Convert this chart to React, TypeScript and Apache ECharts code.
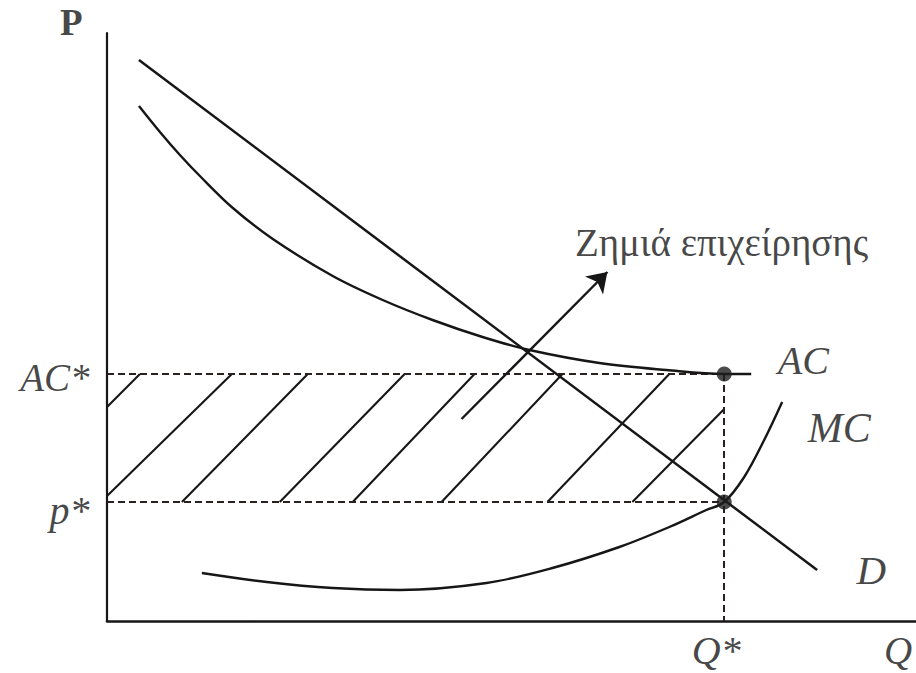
import React, { useEffect, useRef } from "react";
import * as echarts from "echarts";

// Axis extent (data units)
const X_MAX = 810;
const Y_MAX = 588;

// Equilibrium / reference levels
const Q_STAR = 618;
const AC_STAR = 247;
const P_STAR = 119;

// Curves
const demandCurve: number[][] = [
  [32, 561],
  [711, 51],
];
const acCurve: number[][] = [
  [32, 515], [53, 489], [73, 466], [93, 445], [126, 413], [166, 382],
  [226, 345], [276, 321], [326, 301], [376, 284], [423, 271], [493, 258],
  [560, 251], [618, 247], [645, 247],
];
const mcCurve: number[][] = [
  [95, 48], [160, 39], [226, 33], [293, 31], [380, 38], [446, 53],
  [513, 74], [563, 94], [600, 111], [618, 119], [638, 144], [658, 181], [676, 219],
];

// Hatched loss rectangle lines
const hatchLines: number[][][] = [
  [[0, 214], [33, 247]],
  [[0, 125], [125, 247]],
  [[75, 119], [201, 247]],
  [[173, 119], [298, 247]],
  [[246, 119], [368, 247]],
  [[335, 119], [456, 247]],
  [[441, 119], [563, 247]],
  [[526, 119], [618, 212]],
];

const lossArrow: number[][] = [
  [355, 202],
  [501, 349],
];

const dashedLines: number[][][] = [
  [[0, AC_STAR], [Q_STAR, AC_STAR]],
  [[0, P_STAR], [Q_STAR, P_STAR]],
  [[Q_STAR, AC_STAR], [Q_STAR, 0]],
];

const points: number[][] = [
  [Q_STAR, AC_STAR],
  [Q_STAR, P_STAR],
];

const TXT_LOSS = "Ζημιά επιχείρησης";

const SERIF = "'Liberation Serif', 'Times New Roman', serif";
const INK = "#161616";

export default function App() {
  const ref = useRef<HTMLDivElement>(null);

  useEffect(() => {
    if (!ref.current) return;
    const chart = echarts.init(ref.current, undefined, { renderer: "svg" });

    const italic = {
      fontFamily: SERIF,
      fontStyle: "italic",
      fontSize: 40,
      color: INK,
    };

    const labelItems = [
      {
        value: [0, Y_MAX],
        label: { ...italic, fontStyle: "normal", fontWeight: "bold", fontSize: 37, formatter: "P", position: "left", distance: 24, offset: [0, -11] },
      },
      {
        value: [0, AC_STAR],
        label: { ...italic, fontSize: 39, formatter: "AC*", position: "left", distance: 17, offset: [0, 3] },
      },
      {
        value: [0, P_STAR],
        label: { ...italic, fontSize: 40, formatter: "p*", position: "left", distance: 17, offset: [0, 8] },
      },
      {
        value: [Q_STAR, 0],
        label: { ...italic, fontSize: 40, formatter: "Q*", position: "inside", offset: [-8, 29] },
      },
      {
        value: [X_MAX - 18, 0],
        label: { ...italic, fontSize: 39, formatter: "Q", position: "inside", offset: [0, 29] },
      },
      {
        value: acCurve[acCurve.length - 1],
        label: { ...italic, fontSize: 40, formatter: "AC", position: "right", distance: 26, offset: [0, -14] },
      },
      {
        value: mcCurve[mcCurve.length - 1],
        label: { ...italic, fontSize: 42, formatter: "MC", position: "right", distance: 25, offset: [0, 26] },
      },
      {
        value: demandCurve[demandCurve.length - 1],
        label: { ...italic, fontSize: 41, formatter: "D", position: "right", distance: 39, offset: [0, 0] },
      },
      {
        value: lossArrow[1],
        label: { ...italic, fontStyle: "normal", fontSize: 39, formatter: TXT_LOSS, position: "right", distance: 0, offset: [-33, -30] },
      },
    ];

    const option: any = {
      animation: false,
      backgroundColor: "#ffffff",
      grid: { left: 107, top: 33, width: X_MAX, height: Y_MAX, containLabel: false },
      xAxis: {
        type: "value",
        min: 0,
        max: X_MAX,
        axisLine: { show: true, onZero: false, lineStyle: { color: INK, width: 2.6 } },
        axisTick: { show: false },
        axisLabel: { show: false },
        splitLine: { show: false },
      },
      yAxis: {
        type: "value",
        min: 0,
        max: Y_MAX,
        axisLine: { show: true, onZero: false, lineStyle: { color: INK, width: 2.2 } },
        axisTick: { show: false },
        axisLabel: { show: false },
        splitLine: { show: false },
      },
      series: [
        {
          name: "D",
          type: "line",
          data: demandCurve,
          showSymbol: false,
          silent: true,
          lineStyle: { color: INK, width: 2.5 },
        },
        {
          name: "AC",
          type: "line",
          data: acCurve,
          smooth: 0.35,
          showSymbol: false,
          silent: true,
          lineStyle: { color: INK, width: 2.4 },
        },
        {
          name: "MC",
          type: "line",
          data: mcCurve,
          smooth: 0.35,
          showSymbol: false,
          silent: true,
          lineStyle: { color: INK, width: 2.4 },
        },
        {
          name: "hatch",
          type: "lines",
          coordinateSystem: "cartesian2d",
          polyline: false,
          silent: true,
          data: hatchLines.map((c) => ({ coords: c })),
          lineStyle: { color: INK, width: 2.1, opacity: 1 },
        },
        {
          name: "dashed",
          type: "lines",
          coordinateSystem: "cartesian2d",
          polyline: false,
          silent: true,
          data: dashedLines.map((c) => ({ coords: c })),
          lineStyle: { color: "#2a2020", width: 2, type: [7, 4], opacity: 1 },
        },
        {
          name: "arrow",
          type: "lines",
          coordinateSystem: "cartesian2d",
          polyline: false,
          silent: true,
          symbol: ["none", "arrow"],
          symbolSize: 19,
          data: [{ coords: lossArrow }],
          lineStyle: { color: INK, width: 2.4, opacity: 1 },
          itemStyle: { color: INK },
        },
        {
          name: "points",
          type: "scatter",
          data: points,
          symbolSize: 15,
          silent: true,
          itemStyle: { color: "#1e1e1e" },
          z: 5,
        },
        {
          name: "labels",
          type: "scatter",
          data: labelItems,
          symbolSize: 1,
          silent: true,
          itemStyle: { color: "rgba(0,0,0,0)" },
          label: { show: true },
          z: 6,
        },
      ],
    };

    chart.setOption(option);
    return () => chart.dispose();
  }, []);

  return (
    <div
      ref={ref}
      style={{ position: "fixed", left: 0, top: 0, width: 916, height: 673, background: "#fff" }}
    />
  );
}
